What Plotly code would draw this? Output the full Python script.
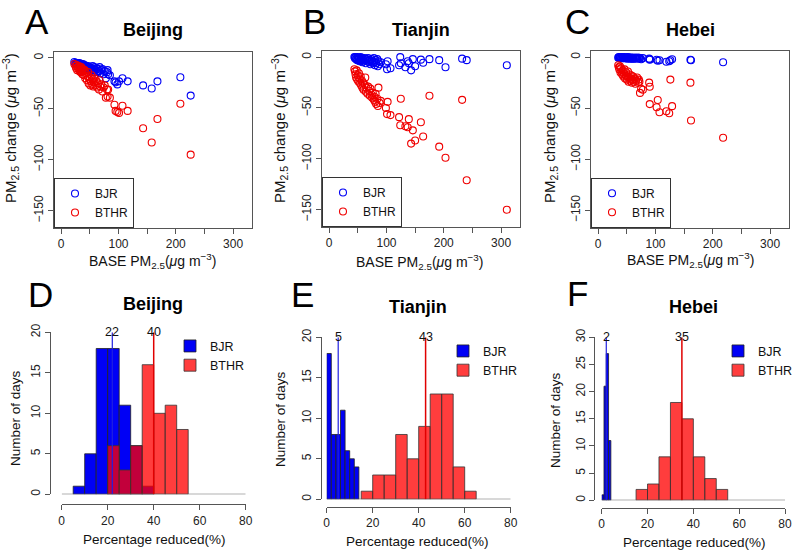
import plotly.graph_objects as go

W, H = 796, 552

# ---------------- data ----------------
# Panel A (Beijing): BASE PM2.5 and change under BJR / BTHR
A_base = [23, 25, 26, 27, 28, 29, 30, 31, 32, 33, 34, 35, 36, 37, 38, 39, 40, 41, 42, 43,
          45, 46, 47, 48, 49, 50, 51, 52, 53, 54, 55, 56, 57, 58, 60, 62, 63, 64, 66, 67,
          68, 70, 72, 74, 76, 78, 80, 81, 82, 85, 93, 95, 98, 101, 107, 116, 143, 158, 168, 208, 226]
A_bjr = [-4, -5, -6, -5, -6, -5, -7, -6, -5, -7, -8, -6, -7, -9, -6, -8, -9, -7, -10, -8,
         -9, -11, -8, -10, -12, -9, -11, -13, -10, -12, -8, -14, -11, -9, -12, -10, -14, -11, -13, -9,
         -15, -12, -11, -16, -13, -20, -14, -12, -16, -17, -23, -24, -26, -23, -20, -23, -27, -30, -23, -19, -37]
A_bthr = [-6, -8, -10, -7, -12, -9, -11, -8, -13, -10, -14, -9, -12, -16, -11, -13, -17, -12, -20, -15,
          -22, -18, -14, -25, -21, -19, -27, -23, -17, -26, -21, -28, -24, -20, -27, -23, -29, -25, -31, -22,
          -28, -26, -33, -29, -27, -39, -31, -38, -31, -39, -46, -52, -53, -54, -47, -52, -69, -83, -60, -45, -95]

# Panel B (Tianjin)
B_base = [44, 45, 46, 47, 48, 49, 50, 51, 52, 53, 54, 55, 56, 57, 58, 59, 60, 62, 63, 64,
          65, 67, 68, 70, 71, 72, 74, 75, 76, 78, 79, 80, 81, 82, 84, 85, 86, 88, 90, 99,
          101, 102, 107, 122, 124, 125, 133, 137, 139, 143, 146, 150, 160, 164, 175, 192, 203, 232, 240, 310]
B_bjr = [0, -1, 0, -2, -1, -3, 0, -2, -1, -4, -2, 0, -3, -1, -5, -2, -4, -1, -3, -6,
         -2, -4, -1, -5, -3, -7, -2, -4, -6, -1, -5, -8, -3, -6, -2, -9, -4, -7, -5, -7,
         -12, -4, -11, -8, 0, -6, -10, -4, -6, -13, -2, -9, -2.5, -5.5, -2, -3, -10, -1.5, -3, -8]
B_bthr = [-12, -14, -17, -20, -13, -22, -18, -24, -16, -21, -26, -19, -28, -23, -30, -25, -32, -27, -20, -34,
          -30, -36, -29, -33, -38, -31, -37, -40, -35, -42, -39, -44, -36, -46, -41, -48, -30, -45, -43, -50,
          -56, -44, -57, -59, -67, -41, -68, -69, -61, -85, -72, -82, -64, -78, -38, -88, -99, -42, -121, -150]

# Panel C (Hebei)
C_base = [35, 36, 37, 38, 39, 40, 41, 42, 43, 44, 45, 46, 47, 48, 49, 50, 51, 52, 53, 54,
          55, 56, 57, 58, 59, 60, 61, 62, 64, 65, 66, 68, 70, 71, 72, 73, 75, 78, 89, 90,
          90, 102, 104, 107, 119, 124, 126, 129, 161, 162, 218]
C_bjr = [-0.5, 0, -1, -0.5, 0, -1, -0.5, 0, -1, -0.5, -1, 0, -1, -0.5, -1, -0.5, -1.5, 0, -1, -0.5,
         -1, -1.5, -0.5, -1, -1.5, -0.5, -1, -1.5, -1, -0.5, -1.5, -1, -0.5, -1, -1.5, -1, -2, -1, -1.5, -2,
         -2.5, -2.5, -3.5, -3, -4.5, -4, -3, -2, -2.5, -3, -5]
C_bthr = [-8, -10, -12, -9, -15, -11, -14, -17, -13, -19, -16, -12, -21, -18, -15, -22, -19, -14, -24, -20,
          -17, -23, -21, -18, -25, -22, -19, -24, -21, -26, -23, -20, -25, -22, -24, -35, -31, -32, -25, -29,
          -46, -49, -42, -54, -53, -55, -22, -48, -25, -62, -79]

# Histograms: left bin edges, bin widths, counts
D_bjr_left = [5, 10, 15, 20, 25, 30, 35];            D_bjr_w = 5; D_bjr_n = [1, 5, 18, 18, 11, 6, 1]
D_bthr_left = [20, 25, 30, 35, 40, 45, 50];          D_bthr_w = 5; D_bthr_n = [6, 3, 6, 16, 10, 11, 8]
E_bjr_left = [0, 2, 4, 6, 8, 10, 12];                E_bjr_w = 2; E_bjr_n = [18, 8, 8, 11, 6, 5, 4]
E_bthr_left = [15, 20, 25, 30, 35, 40, 45, 50, 55, 60]; E_bthr_w = 5; E_bthr_n = [1, 3, 3, 8, 5, 9, 13, 13, 4, 1]
F_bjr_left = [0, 1, 2, 3];                           F_bjr_w = 1; F_bjr_n = [1, 21, 27, 11]
F_bthr_left = [15, 20, 25, 30, 35, 40, 45, 50];      F_bthr_w = 5; F_bthr_n = [2, 3, 8, 18, 15, 8, 4, 2]
hist_breaks = [0, 80]
D_med = [22, 40]
E_med = [5, 43]
F_med = [2, 35]
D_ymax, E_ymax, F_ymax = 20, 20, 30

letters = ["A", "B", "C", "D", "E", "F"]
cities = ["Beijing", "Tianjin", "Hebei"]
# ---------------------------------------

FONT = "Liberation Sans, Arial, Helvetica, sans-serif"
BLUE = "#0000F5"
RED = "#F00000"
RED_T = "rgba(255,0,0,0.76)"
AX = "#555555"


def fx(a, b):
    return [a / W, b / W]


def fy(top, bottom):
    return [1 - bottom / H, 1 - top / H]


fig = go.Figure()

scatter_geom = [
    (fx(54, 252), fy(51.5, 228)),
    (fx(322, 520), fy(50.7, 227)),
    (fx(591, 789), fy(50.7, 227.7)),
]
scatter_data = [(A_base, A_bjr, A_bthr), (B_base, B_bjr, B_bthr), (C_base, C_bjr, C_bthr)]

for i, ((xd, yd), (bx, by, rb)) in enumerate(zip(scatter_geom, scatter_data)):
    n = i + 1
    xa = "x" if n == 1 else f"x{n}"
    ya = "y" if n == 1 else f"y{n}"
    lg = "legend" if n == 1 else f"legend{n}"
    fig.add_trace(go.Scatter(x=bx, y=by, mode="markers", name="BJR", xaxis=xa, yaxis=ya, legend=lg,
                             marker=dict(symbol="circle-open", size=7, color=BLUE, line=dict(width=1.1))))
    fig.add_trace(go.Scatter(x=bx, y=rb, mode="markers", name="BTHR", xaxis=xa, yaxis=ya, legend=lg,
                             marker=dict(symbol="circle-open", size=7, color=RED, line=dict(width=1.1))))
    axkey = "xaxis" if n == 1 else f"xaxis{n}"
    aykey = "yaxis" if n == 1 else f"yaxis{n}"
    fig.layout[axkey] = dict(domain=xd, anchor=ya, range=[-12.5, 333], showline=True, mirror=True,
                             linecolor=AX, linewidth=1, ticks="outside", ticklen=5, tickcolor=AX,
                             tickvals=[0, 100, 200, 300],
                             minor=dict(tickvals=[50, 150, 250], ticks="outside", ticklen=5, tickcolor=AX,
                                        showgrid=False),
                             showgrid=False, zeroline=False, tickfont=dict(size=12, color="#222"))
    fig.layout[aykey] = dict(domain=yd, anchor=xa, range=[-167, 6.3], showline=True, mirror=True,
                             linecolor=AX, linewidth=1, ticks="outside", ticklen=5, tickcolor=AX,
                             tickvals=[0, -50, -100, -150], ticktext=["0", "\u221250", "\u2212100", "\u2212150"],
                             tickangle=-90, showgrid=False, zeroline=False,
                             tickfont=dict(size=12, color="#222"))
    fig.layout[lg] = dict(x=xd[0], y=yd[0], xanchor="left", yanchor="bottom", bordercolor="#333",
                          borderwidth=1, bgcolor="white", font=dict(size=12, family=FONT, color="#111"),
                          tracegroupgap=0, itemwidth=30)

hist_geom = [
    # x domain px, y domain px, x-axis line y, y-axis line x, legend left
    (fx(61.7, 245.7), fy(332.3, 494.3), 504.3, 50.0, 170),
    (fx(326.7, 510.7), fy(337.3, 499.3), 507.0, 320.7, 443),
    (fx(601.7, 785.0), fy(337.3, 500.3), 508.0, 594.3, 718),
]
hist_data = [
    (D_bjr_left, D_bjr_w, D_bjr_n, D_bthr_left, D_bthr_w, D_bthr_n, D_med, D_ymax),
    (E_bjr_left, E_bjr_w, E_bjr_n, E_bthr_left, E_bthr_w, E_bthr_n, E_med, E_ymax),
    (F_bjr_left, F_bjr_w, F_bjr_n, F_bthr_left, F_bthr_w, F_bthr_n, F_med, F_ymax),
]

annotations = []
for j, ((xd, yd, xline, yline, legx), (bl, bw, bn, rl, rw, rn, med, ymax)) in enumerate(zip(hist_geom, hist_data)):
    n = j + 4
    xa, ya, lg = f"x{n}", f"y{n}", f"legend{n}"
    # baseline (zero-count bins)
    fig.add_trace(go.Scatter(x=hist_breaks, y=[0, 0], mode="lines", xaxis=xa, yaxis=ya, showlegend=False,
                             line=dict(color="#666", width=1.2), cliponaxis=False, hoverinfo="skip"))
    fig.add_trace(go.Bar(x=bl, y=bn, width=bw, offset=0, name="BJR", xaxis=xa, yaxis=ya, legend=lg,
                         marker=dict(color=BLUE, line=dict(color="#222", width=0.8))))
    fig.add_trace(go.Bar(x=rl, y=rn, width=rw, offset=0, name="BTHR", xaxis=xa, yaxis=ya, legend=lg,
                         marker=dict(color=RED_T, line=dict(color="#333", width=0.8))))
    fig.add_trace(go.Scatter(x=[med[0], med[0]], y=[0, ymax], mode="lines", xaxis=xa, yaxis=ya,
                             showlegend=False, cliponaxis=False, line=dict(color="#2020E0", width=1.2)))
    fig.add_trace(go.Scatter(x=[med[1], med[1]], y=[0, ymax], mode="lines", xaxis=xa, yaxis=ya,
                             showlegend=False, cliponaxis=False, line=dict(color="#E00000", width=1.5)))
    for m in med:
        annotations.append(dict(x=m, y=ymax, xref=xa, yref=ya, text=str(m), showarrow=False,
                                xanchor="center", yanchor="middle", font=dict(size=12.5, color="#111")))
    fig.layout[f"xaxis{n}"] = dict(domain=xd, anchor="free", position=1 - xline / H, range=[0, 80],
                                   showline=True, linecolor=AX, linewidth=1, ticks="outside", ticklen=5,
                                   tickcolor=AX, tickvals=[0, 20, 40, 60, 80], showgrid=False, zeroline=False,
                                   tickfont=dict(size=12, color="#222"))
    fig.layout[f"yaxis{n}"] = dict(domain=yd, anchor="free", position=yline / W, range=[0, ymax],
                                   showline=True, linecolor=AX, linewidth=1, ticks="outside", ticklen=5,
                                   tickcolor=AX, tickvals=list(range(0, ymax + 1, 5)), tickangle=-90,
                                   showgrid=False, zeroline=False, tickfont=dict(size=12, color="#222"))
    fig.layout[lg] = dict(x=legx / W, y=yd[1] + 1 / H, xanchor="left", yanchor="top",
                          bgcolor="rgba(0,0,0,0)", font=dict(size=12.5, family=FONT, color="#111"),
                          tracegroupgap=0, itemwidth=30)

# panel letters
letter_pos = [(37, 21), (314, 21), (577, 21), (40, 294), (302, 294), (577, 293)]
for t, (x, y) in zip(letters, letter_pos):
    annotations.append(dict(x=x / W, y=1 - y / H, xref="paper", yref="paper", text=t, showarrow=False,
                            xanchor="center", yanchor="middle", font=dict(size=35, color="#000")))
# titles
title_pos = [(153, 30), (421, 30), (690, 30), (153, 304), (418, 307), (693, 307)]
for k, (x, y) in enumerate(title_pos):
    annotations.append(dict(x=x / W, y=1 - y / H, xref="paper", yref="paper", text=f"<b>{cities[k % 3]}</b>",
                            showarrow=False, xanchor="center", yanchor="middle", font=dict(size=18, color="#000")))
# axis titles
xt = "BASE PM<sub>2.5</sub>(<i>\u03bc</i>g m<sup>\u22123</sup>)"
yt = "PM<sub>2.5</sub> change (<i>\u03bc</i>g m<sup>\u22123</sup>)"
for x, y in [(152, 261), (419, 262), (690, 260)]:
    annotations.append(dict(x=x / W, y=1 - y / H, xref="paper", yref="paper", text=xt, showarrow=False,
                            xanchor="center", yanchor="middle", font=dict(size=14, color="#111")))
for x, y in [(10, 128), (279, 128), (549, 128)]:
    annotations.append(dict(x=x / W, y=1 - y / H, xref="paper", yref="paper", text=yt, showarrow=False,
                            textangle=-90, xanchor="center", yanchor="middle", font=dict(size=15, color="#111")))
for x, y in [(154, 539), (417, 541), (694, 542)]:
    annotations.append(dict(x=x / W, y=1 - y / H, xref="paper", yref="paper", text="Percentage reduced(%)",
                            showarrow=False, xanchor="center", yanchor="middle", font=dict(size=13.5, color="#111")))
for x, y in [(15, 418), (280, 419), (555, 420)]:
    annotations.append(dict(x=x / W, y=1 - y / H, xref="paper", yref="paper", text="Number of days",
                            showarrow=False, textangle=-90, xanchor="center", yanchor="middle",
                            font=dict(size=13.5, color="#111")))

fig.update_layout(width=W, height=H, margin=dict(l=0, r=0, t=0, b=0, autoexpand=False),
                  paper_bgcolor="white", plot_bgcolor="white", barmode="overlay",
                  font=dict(family=FONT, color="#111"), annotations=annotations)

fig.write_html("out.html", config={"displayModeBar": False},
               post_script="document.body.style.margin='0';document.body.style.padding='0';")
